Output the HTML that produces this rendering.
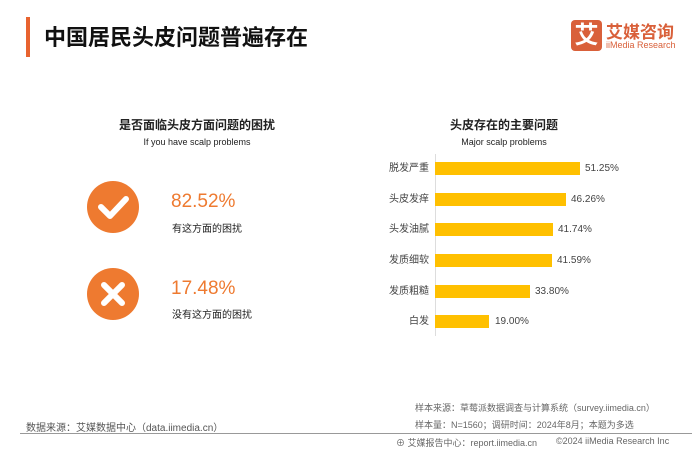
<!DOCTYPE html>
<html><head><meta charset="utf-8"><style>
body{margin:0;width:692px;height:450px;background:#fff;position:relative;overflow:hidden;font-family:"Liberation Sans","Noto Sans CJK SC",sans-serif;color:#222}
.a{position:absolute;white-space:nowrap}
.bar{position:absolute;left:435px;height:13px;background:#FFC000}
.lab{position:absolute;right:263px;font-size:10px;line-height:13px;color:#444;white-space:nowrap}
.val{position:absolute;font-size:10px;line-height:13px;color:#444;white-space:nowrap}
</style></head><body>
<div class="a" style="left:26px;top:17px;width:4px;height:40px;background:#E8632F"></div>
<div class="a" style="left:44px;top:20px;font-size:22px;font-weight:bold;color:#111">中国居民头皮问题普遍存在</div>
<div class="a" style="left:571px;top:20px;width:31px;height:31px;background:#D9603A;border-radius:4px;color:#fff;font-size:24px;font-weight:bold;text-align:center;line-height:31px">艾</div>
<div class="a" style="left:606px;top:18px;font-size:17px;font-weight:bold;color:#D9603A">艾媒咨询</div>
<div class="a" style="left:606px;top:40px;font-size:9px;color:#D9603A">iiMedia Research</div>

<div class="a" style="left:97px;top:116px;width:200px;text-align:center;font-size:12px;font-weight:bold">是否面临头皮方面问题的困扰</div>
<div class="a" style="left:97px;top:137px;width:200px;text-align:center;font-size:9px">If you have scalp problems</div>
<div class="a" style="left:404px;top:116px;width:200px;text-align:center;font-size:12px;font-weight:bold">头皮存在的主要问题</div>
<div class="a" style="left:404px;top:137px;width:200px;text-align:center;font-size:9px">Major scalp problems</div>

<svg class="a" style="left:86px;top:180px" width="54" height="140">
<circle cx="27" cy="27" r="26" fill="#EE7A30"/>
<path d="M15 27 L24 36 L40 19" stroke="#fff" stroke-width="6" fill="none" stroke-linecap="round" stroke-linejoin="round"/>
<circle cx="27" cy="114" r="26" fill="#EE7A30"/>
<path d="M18 105 L36 123 M36 105 L18 123" stroke="#fff" stroke-width="6" stroke-linecap="round"/>
</svg>
<div class="a" style="left:171px;top:191px;font-size:19px;color:#EE7A30">82.52%</div>
<div class="a" style="left:172px;top:220px;font-size:10px">有这方面的困扰</div>
<div class="a" style="left:171px;top:278px;font-size:19px;color:#EE7A30">17.48%</div>
<div class="a" style="left:172px;top:306px;font-size:10px">没有这方面的困扰</div>

<div class="a" style="left:435px;top:154px;width:1px;height:182px;background:#ddd"></div>
<div class="bar" style="top:162px;width:145px"></div><div class="lab" style="top:162px">脱发严重</div><div class="val" style="left:585px;top:162px">51.25%</div>
<div class="bar" style="top:193px;width:131px"></div><div class="lab" style="top:193px">头皮发痒</div><div class="val" style="left:571px;top:193px">46.26%</div>
<div class="bar" style="top:223px;width:118px"></div><div class="lab" style="top:223px">头发油腻</div><div class="val" style="left:558px;top:223px">41.74%</div>
<div class="bar" style="top:254px;width:117px"></div><div class="lab" style="top:254px">发质细软</div><div class="val" style="left:557px;top:254px">41.59%</div>
<div class="bar" style="top:285px;width:95px"></div><div class="lab" style="top:285px">发质粗糙</div><div class="val" style="left:535px;top:285px">33.80%</div>
<div class="bar" style="top:315px;width:54px"></div><div class="lab" style="top:315px">白发</div><div class="val" style="left:495px;top:315px">19.00%</div>

<div class="a" style="left:415px;top:401px;font-size:9px;color:#666">样本来源：草莓派数据调查与计算系统（survey.iimedia.cn）</div>
<div class="a" style="left:415px;top:418px;font-size:9px;color:#666">样本量：N=1560；调研时间：2024年8月；本题为多选</div>
<div class="a" style="left:26px;top:419px;font-size:10px;color:#555">数据来源：艾媒数据中心（data.iimedia.cn）</div>
<div class="a" style="left:20px;top:433px;width:672px;height:1px;background:#999"></div>
<div class="a" style="left:396px;top:436px;font-size:9px;color:#666">⊕ 艾媒报告中心：report.iimedia.cn</div>
<div class="a" style="left:556px;top:436px;font-size:9px;color:#666">©2024  iiMedia Research Inc</div>
</body></html>
